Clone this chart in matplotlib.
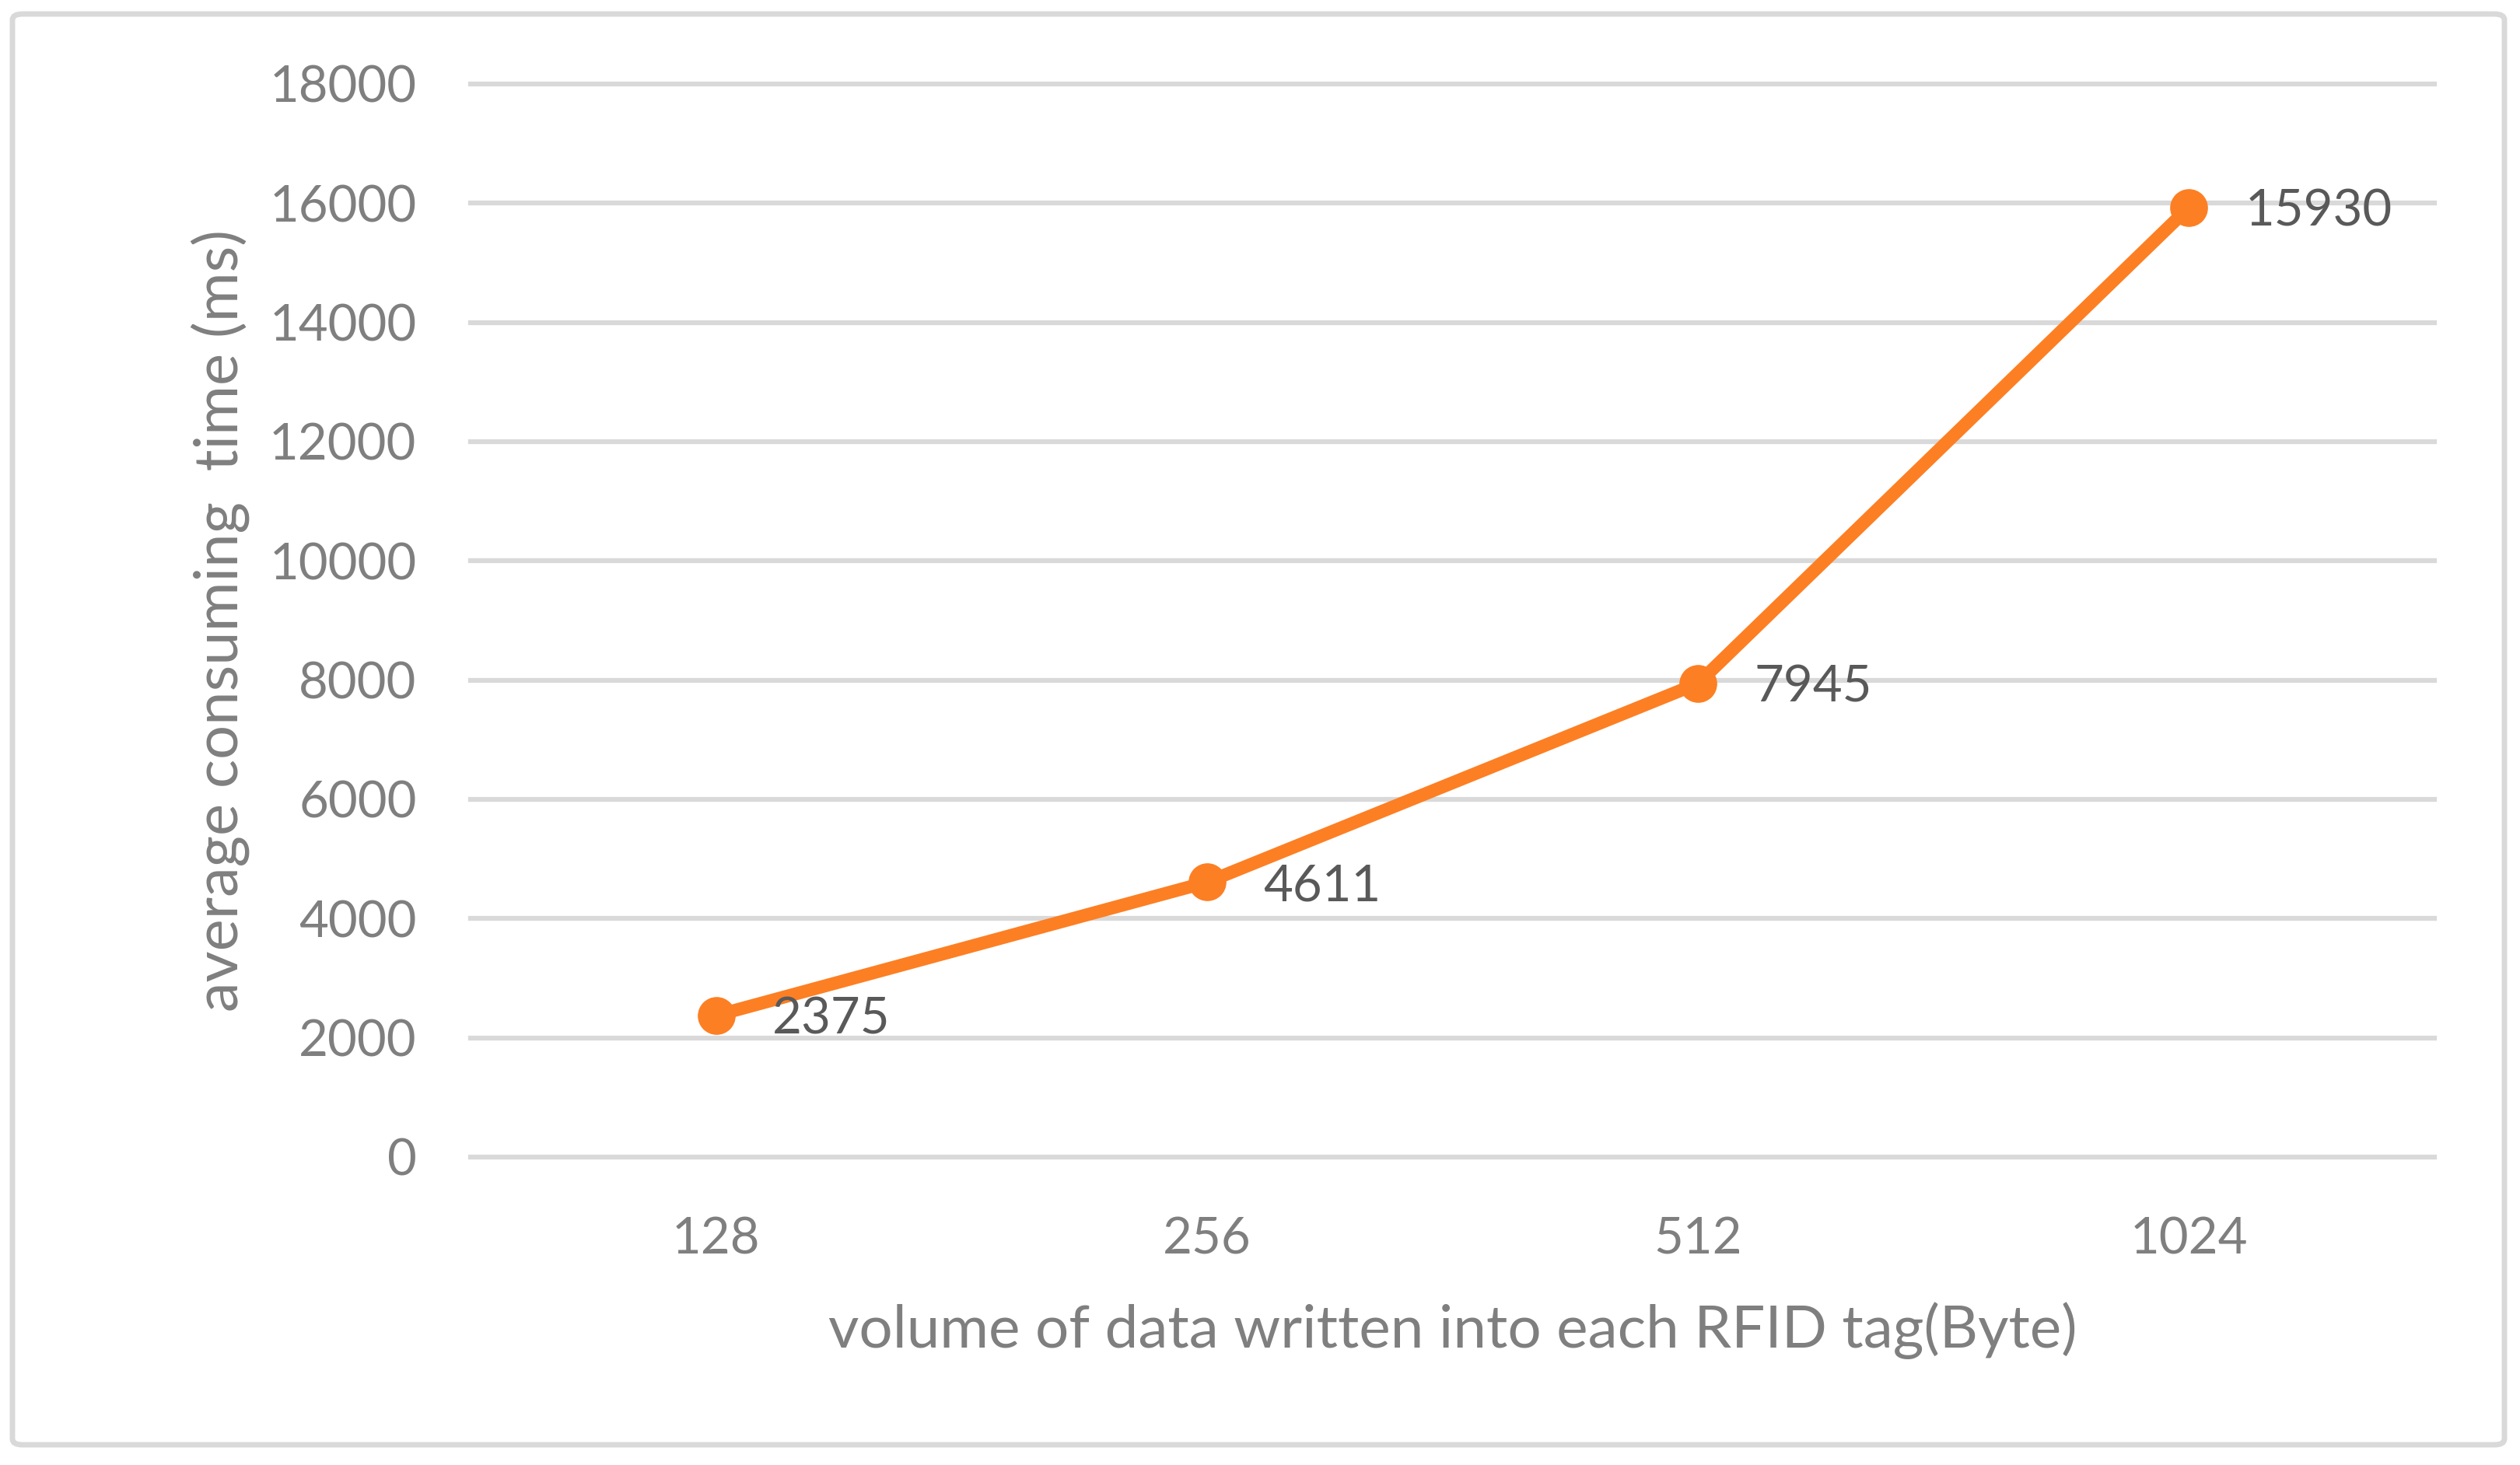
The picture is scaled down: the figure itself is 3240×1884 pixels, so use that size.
import matplotlib
matplotlib.use("Agg")
import matplotlib.pyplot as plt
from matplotlib.patches import FancyBboxPatch

# data
categories = ["128", "256", "512", "1024"]
avg_time = [2375, 4611, 7945, 15930]
y_ticks = [0, 2000, 4000, 6000, 8000, 10000, 12000, 14000, 16000, 18000]

plt.rcParams['font.family'] = ['Lato', 'DejaVu Sans']

W, H = 3240, 1884
fig = plt.figure(figsize=(W / 100, H / 100), dpi=100)

# plot area (pixel extents of gridlines in the reference)
left, right, top, bottom = 605, 3130, 108, 1488
ax = fig.add_axes([left / W, 1 - bottom / H, (right - left) / W, (bottom - top) / H])

orange = '#FD7F23'
grid_col = '#D9D9D9'
tick_col = '#7F7F7F'
label_col = '#595959'

x = list(range(len(categories)))
ax.plot(x, avg_time, color=orange, lw=12, marker='o', markersize=34,
        solid_capstyle='round', solid_joinstyle='round', zorder=3, clip_on=False)

for xi, v in zip(x, avg_time):
    ax.annotate(str(v), (xi, v), xytext=(52, -4), textcoords='offset points',
                ha='left', va='center', fontsize=47, color=label_col, zorder=4)

ax.set_xlim(-0.5, len(categories) - 0.5)
ax.set_ylim(0, 18000)
ax.set_xticks(x)
ax.set_xticklabels(categories)
ax.set_yticks(y_ticks)
ax.tick_params(axis='both', length=0, labelsize=47, labelcolor=tick_col)
ax.tick_params(axis='y', pad=50)
ax.tick_params(axis='x', pad=55)

ax.yaxis.grid(True, color=grid_col, lw=4.5)
for gl in ax.get_ygridlines():
    gl.set_clip_on(False)
ax.set_axisbelow(True)
for s in ax.spines.values():
    s.set_visible(False)

ax.set_ylabel("average consuming  time (ms)", fontsize=56, color=tick_col)
ax.set_xlabel("volume of data written into each RFID tag(Byte)", fontsize=55, color=tick_col)
ax.yaxis.set_label_coords((283 - left) / (right - left), 0.5)
ax.xaxis.set_label_coords(0.5, (bottom - 1711) / (bottom - top))
ax.yaxis.label.set_va('center')
ax.xaxis.label.set_va('center')

# outer chart border
border = FancyBboxPatch((16 / W, 1 - 1858 / H), (3220 - 16) / W, (1858 - 18) / H,
                        boxstyle='round,pad=0,rounding_size=0.004',
                        transform=fig.transFigure, fill=False,
                        edgecolor=grid_col, lw=5)
fig.patches.append(border)

fig.savefig("out.png", dpi=100, facecolor='white')
